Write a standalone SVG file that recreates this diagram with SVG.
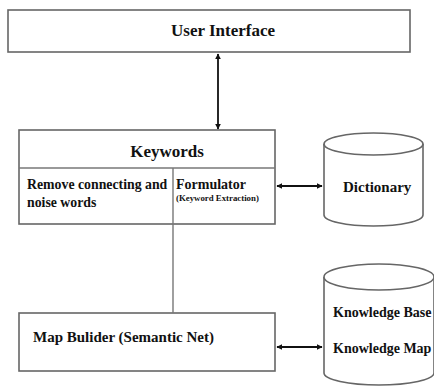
<svg xmlns="http://www.w3.org/2000/svg" width="434" height="387" viewBox="0 0 434 387">
<style>
.box{fill:#fff;stroke:#666;stroke-width:1.6}
.ln{fill:none;stroke:#777;stroke-width:1.4}
.ar{fill:none;stroke:#111;stroke-width:1.8}
.t{font-family:"Liberation Serif","Times New Roman",serif;font-weight:bold;fill:#111}
</style>
<defs>
<marker id="ah" viewBox="0 0 10 10" refX="9" refY="5" markerWidth="6" markerHeight="6" markerUnits="userSpaceOnUse" orient="auto-start-reverse">
<path d="M0,0 L10,5 L0,10 z" fill="#111"/>
</marker>
</defs>
<rect width="434" height="387" fill="#fff"/>
<g id="user-interface">
<rect class="box" x="8" y="10" width="402" height="42"/>
<text class="t" x="223" y="36" font-size="17" text-anchor="middle">User Interface</text>
</g>
<g id="keywords">
<rect class="box" x="19" y="130" width="256" height="94"/>
<line class="ln" x1="19" y1="168" x2="275" y2="168"/>
<line class="ln" x1="173" y1="168" x2="173" y2="224"/>
<text class="t" x="167" y="157" font-size="17" text-anchor="middle">Keywords</text>
<text class="t" x="27" y="189" font-size="13.8">Remove connecting and</text>
<text class="t" x="27" y="207" font-size="13.8">noise words</text>
<text class="t" x="176" y="189" font-size="14">Formulator</text>
<text class="t" x="176" y="201" font-size="8.8">(Keyword Extraction)</text>
</g>
<g id="dictionary">
<path class="box" d="M324,144 L324,215 A49.5,11 0 0 0 423,215 L423,144"/>
<ellipse class="box" cx="373.5" cy="144" rx="49.5" ry="11"/>
<text class="t" x="343" y="192" font-size="15">Dictionary</text>
</g>
<g id="map-builder">
<rect class="box" x="19" y="313" width="256" height="58"/>
<text class="t" x="33" y="342" font-size="15">Map Bulider (Semantic Net)</text>
</g>
<g id="knowledge">
<path class="box" d="M324,277 L324,373 A55,12 0 0 0 434,373 L434,277"/>
<ellipse class="box" cx="379" cy="277" rx="55" ry="13"/>
<text class="t" x="333" y="317" font-size="14">Knowledge Base</text>
<text class="t" x="333" y="353" font-size="14">Knowledge Map</text>
</g>
<g id="connectors">
<line class="ar" x1="218" y1="54" x2="218" y2="129" marker-start="url(#ah)" marker-end="url(#ah)"/>
<line class="ar" x1="277" y1="186" x2="322" y2="186" marker-start="url(#ah)" marker-end="url(#ah)"/>
<line class="ar" x1="277" y1="347" x2="322" y2="347" marker-start="url(#ah)" marker-end="url(#ah)"/>
<line class="ln" x1="173" y1="224" x2="173" y2="313"/>
</g>
</svg>
